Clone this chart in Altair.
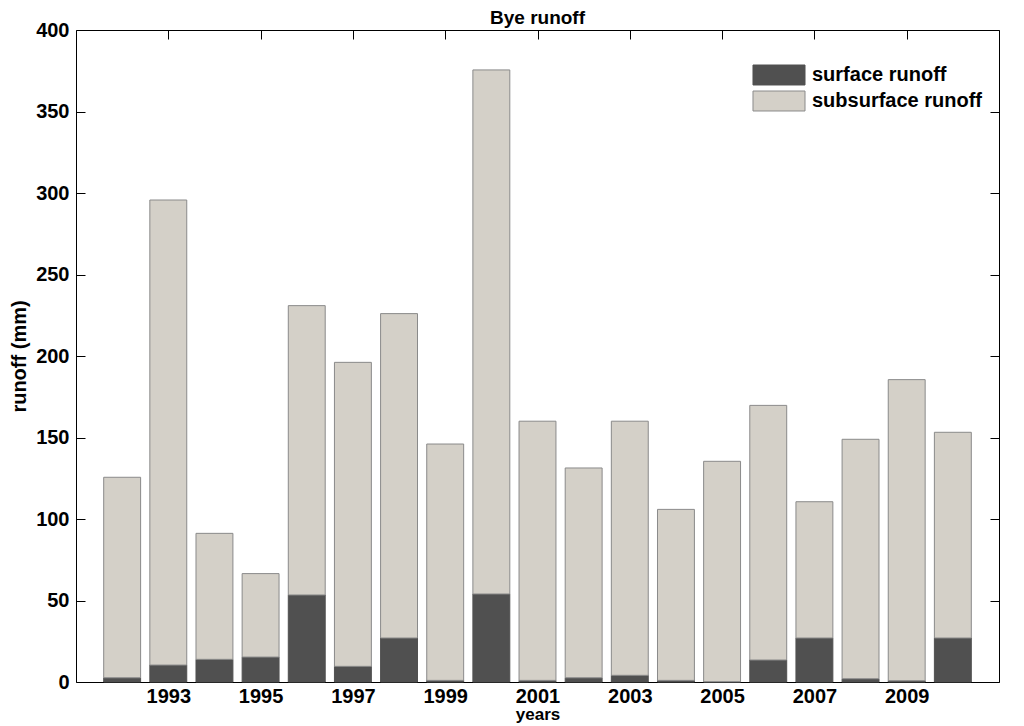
import altair as alt
import pandas as pd

years = list(range(1992, 2011))
surface = [2.6, 10.4, 13.9, 15.3, 53.4, 9.6, 27.0, 1.0, 54.0, 1.0,
           2.6, 4.1, 1.0, 0.2, 13.5, 27.0, 2.0, 0.8, 27.0]
subsurface = [123.0, 285.3, 77.3, 51.2, 177.5, 186.5, 199.0, 145.0, 321.5, 159.0,
              128.7, 155.9, 104.9, 135.2, 156.2, 83.6, 146.9, 184.7, 126.2]
series = ["surface runoff", "subsurface runoff"]
x_ticks = [1993, 1995, 1997, 1999, 2001, 2003, 2005, 2007, 2009]
y_ticks = [0, 50, 100, 150, 200, 250, 300, 350, 400]

rows = []
for yr, s, ss in zip(years, surface, subsurface):
    rows.append({"year": yr, "type": series[0], "lo": 0.0, "hi": s})
    rows.append({"year": yr, "type": series[1], "lo": s, "hi": s + ss})
df = pd.DataFrame(rows)

W, H = 923, 652
FONT = "Liberation Sans"
FS = 20
xscale = alt.Scale(domain=[1991, 2011], nice=False, zero=False)
yscale = alt.Scale(domain=[0, 400], nice=False)

bars = alt.Chart(df).transform_calculate(
    x0="datum.year - 0.4", x1="datum.year + 0.4"
).mark_bar(strokeWidth=1).encode(
    x=alt.X("x0:Q", scale=xscale,
            axis=alt.Axis(values=x_ticks, format="d", ticks=False, domain=False,
                          grid=False, labelPadding=4, title="years", titlePadding=0,
                          titleFontSize=17)),
    x2="x1:Q",
    y=alt.Y("lo:Q", scale=yscale,
            axis=alt.Axis(values=y_ticks, ticks=False, domain=False, grid=False,
                          labelPadding=7, title="runoff (mm)", titlePadding=6)),
    y2="hi:Q",
    color=alt.Color("type:N", scale=alt.Scale(domain=series, range=["#505050", "#d4d0c8"]),
                    legend=alt.Legend(title="")),
    stroke=alt.Stroke("type:N", scale=alt.Scale(domain=series, range=["#505050", "#8a8a8a"]),
                      legend=alt.Legend(title="")),
)

tick_axis = dict(labels=False, domain=False, grid=False, ticks=True, tickSize=9,
                 tickColor="black", tickWidth=1, title="")

ticks_a = alt.Chart(df).mark_point(opacity=0).encode(
    x=alt.X("year:Q", scale=xscale, axis=alt.Axis(orient="top", offset=-H, values=x_ticks, **tick_axis)),
    y=alt.Y("hi:Q", scale=yscale, axis=alt.Axis(orient="right", offset=-W, values=y_ticks, **tick_axis)),
)
ticks_b = alt.Chart(df).mark_point(opacity=0).encode(
    x=alt.X("year:Q", scale=xscale, axis=alt.Axis(orient="bottom", offset=-H, values=x_ticks, **tick_axis)),
    y=alt.Y("hi:Q", scale=yscale, axis=alt.Axis(orient="left", offset=-W, values=y_ticks, **tick_axis)),
)

chart = alt.layer(bars, ticks_a, ticks_b).resolve_axis(
    x="independent", y="independent"
).properties(
    width=W, height=H,
    title=alt.TitleParams("Bye runoff", fontSize=19, font=FONT, fontWeight="bold",
                          color="black", offset=0, dy=8, anchor="middle"),
    autosize=alt.AutoSizeParams(type="none"),
    padding={"left": 68, "top": 22, "right": 17, "bottom": 44},
).configure_view(
    stroke="black", strokeWidth=1
).configure_axis(
    labelFont=FONT, labelFontSize=FS, labelFontWeight="bold", labelColor="black",
    titleFont=FONT, titleFontSize=FS, titleFontWeight="bold", titleColor="black",
).configure_legend(
    orient="none", legendX=692, legendY=34,
    symbolType="M-2.5,-0.96L2.5,-0.96L2.5,0.96L-2.5,0.96Z", symbolSize=433,
    symbolStrokeWidth=1, symbolOpacity=1,
    labelFont=FONT, labelFontSize=FS, labelFontWeight="bold", labelColor="black",
    labelOffset=22, rowPadding=2, labelLimit=400,
)

chart.save("out.html", embed_options={"renderer": "svg", "actions": False})
